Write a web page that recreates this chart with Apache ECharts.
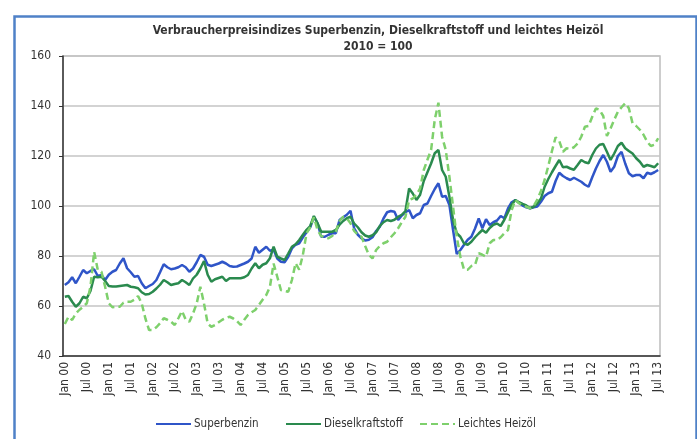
<!DOCTYPE html>
<html><head><meta charset="utf-8">
<script src="https://cdn.jsdelivr.net/npm/echarts@6/dist/echarts.min.js"></script>
<style>html,body{margin:0;padding:0;background:#fff;}#c{width:697px;height:439px;}</style>
</head><body><div id="c"></div>
<script>
var monthNames = ['Jan','Feb','Mär','Apr','Mai','Jun','Jul','Aug','Sep','Okt','Nov','Dez'];
var years = ['00','01','02','03','04','05','06','07','08','09','10','11','12','13'];
var yTicks = [40, 60, 80, 100, 120, 140, 160];
var seriesNames = ['Superbenzin', 'Dieselkraftstoff', 'Leichtes Heizöl'];

var superbenzin = [
 68.4, 69.5, 71.5, 69.1, 71.7, 74.4, 73.1, 74, 74.7, 72, 72.4, 70.4,
 72.5, 73.7, 74.4, 77, 79.1, 75.1, 73.5, 71.7, 72, 69.1, 67.1, 68,
 68.8, 70.4, 73.5, 76.7, 75.5, 74.7, 75, 75.5, 76.4, 75.5, 73.7, 75,
 77.5, 80.4, 79.7, 76.5, 76, 76.5, 77, 77.7, 77, 76, 75.7, 75.8,
 76.4, 77, 77.7, 79, 83.7, 81.3, 82.5, 83.7, 82.1, 82.5, 79, 77.7,
 77.5, 79.7, 83, 84.5, 85.1, 87.5, 89.5, 91.5, 95.7, 93.1, 87.7, 87.7,
 88.5, 89.1, 89.1, 94.4, 95.5, 96.5, 98.1, 91, 88.5, 87.1, 86.2, 86.5,
 87.5, 90, 91.7, 95, 97.5, 98, 97.7, 94.4, 96.2, 97.5, 98.4, 95.1,
 96.4, 97.1, 100.4, 101, 104, 106.8, 109.1, 103.7, 104, 100.4, 90.4, 80.8,
 82.4, 84.5, 86.5, 87.7, 91, 95, 91.1, 94.7, 92.4, 93.5, 94.2, 96,
 95.1, 99, 101.5, 102.4, 101.3, 100.2, 99.5, 99.1, 99.5, 99.8, 101.7, 104,
 105.1, 105.7, 110, 113.3, 112, 111.1, 110.4, 111.3, 110.5, 109.7, 108.5, 107.7,
 111.5, 115, 118, 120.4, 117.7, 113.7, 115.7, 120, 121.7, 117, 113.1, 111.9,
 112.4, 112.4, 111.1, 113.3, 112.8, 113.5, 114.4
];
var diesel = [
 63.7, 64, 61.7, 59.7, 61.1, 63.7, 63.1, 66, 71.7, 71.5, 71.7, 70,
 68, 67.8, 67.8, 68, 68.2, 68.4, 67.7, 67.5, 67.1, 65.5, 64.6, 64.8,
 65.7, 67, 68.5, 70.4, 69.5, 68.4, 68.8, 69.1, 70.4, 69.5, 68.4, 71,
 72.5, 75, 78, 72.5, 69.7, 70.7, 71.2, 71.7, 70, 71.1, 71.1, 71.1,
 71.1, 71.5, 72.4, 75, 77.1, 75.1, 76.5, 77.1, 79.1, 83.7, 79.7, 79,
 78.4, 81, 83.7, 84.7, 86.4, 88.5, 90.5, 92, 96, 93.1, 89.7, 89.7,
 89.7, 89.7, 90.4, 92.5, 94, 95.1, 95.7, 93, 91.5, 89.5, 88.2, 87.7,
 88.3, 89.5, 92, 93.5, 94.4, 94, 94.5, 95.7, 96.5, 98, 107, 105,
 102.4, 104.5, 110, 113.5, 117, 121.1, 122.4, 114.4, 111.7, 103.7, 94.4, 89.1,
 87.7, 85, 84.5, 85.7, 87.5, 89, 90.4, 89.3, 91.2, 92.5, 93, 92,
 94.5, 97.5, 100.5, 102.4, 101.5, 100.8, 100.2, 99.1, 99.7, 101, 103, 107.7,
 110.8, 113.5, 116, 118.4, 115.5, 115.7, 115, 114.5, 116.4, 118.4, 117.5, 117.1,
 120.4, 123, 124.5, 124.8, 121.7, 118.4, 121, 124, 125.3, 123.1, 122, 121,
 119.1, 117.7, 115.7, 116.4, 116, 115.5, 117.1
];
var heizoel = [
 52.8, 55.7, 54.4, 57, 58.5, 59.7, 61.1, 67.7, 81.7, 74.4, 73.7, 67.7,
 61.1, 59.5, 59.6, 59.7, 61.3, 61.7, 61.7, 62.5, 64, 61, 55, 50.4,
 50.4, 51.5, 53.1, 55.1, 54.5, 53.7, 52.4, 55.1, 58, 54.5, 53.7, 57,
 61, 67.7, 61, 53, 51.7, 52.4, 53.5, 54.5, 55.2, 55.7, 55, 54,
 52.4, 54.5, 56.4, 57.5, 58.4, 60.4, 62.5, 64.4, 67.7, 77, 71.7, 66.4,
 66, 65.7, 70.4, 77.1, 74.5, 80.5, 89.1, 91.5, 95.5, 90.4, 88, 87.4,
 87.1, 88, 89.7, 94, 95.7, 95.1, 93.1, 90, 88.5, 87.7, 84, 80.5,
 79, 82.4, 84, 85.1, 85.7, 87.5, 89.1, 91.1, 93.5, 95.7, 102.4, 103,
 104.5, 107, 114.4, 118.5, 122.4, 134.5, 141.3, 127.7, 122.4, 111.7, 99.7, 87.7,
 79.7, 74.5, 74.5, 76, 76.4, 81.1, 80.5, 79.7, 85.1, 86.4, 86.4, 87.5,
 89.1, 90.4, 98.4, 102.4, 101.1, 100.3, 99.7, 99.1, 100, 102.5, 106, 110.4,
 116, 122, 127.5, 126, 121.7, 123.1, 122.8, 123.5, 125, 127.7, 131.7, 132,
 135.7, 139, 138.5, 136, 128, 131, 134.5, 137.7, 139.5, 141.1, 139.1, 133.1,
 132, 130.5, 128.5, 125.7, 124, 124.5, 127.1
];

var categories = [];
for (var y = 0; y < years.length; y++) {
  for (var m = 0; m < 12; m++) {
    if (categories.length < superbenzin.length) categories.push(monthNames[m] + ' ' + years[y]);
  }
}

var FONT = '"Liberation Sans Narrow", "DejaVu Sans Condensed", Arial, sans-serif';
var legendLefts = [155, 285, 419];
var legends = seriesNames.map(function (n, k) {
  return {
    show: true, orient: 'horizontal', data: [n],
    left: legendLefts[k], top: 418, padding: 0,
    itemWidth: 35, itemHeight: 10, itemGap: 0,
    itemStyle: {opacity: 0},
    textStyle: {fontFamily: FONT, fontSize: 11.5, color: '#333333', padding: [0, 0, 0, -2]}
  };
});

var chart = echarts.init(document.getElementById('c'), null, {renderer: 'canvas'});
chart.setOption({
  animation: false,
  backgroundColor: '#ffffff',
  textStyle: {fontFamily: FONT},
  graphic: [{
    type: 'rect', left: 12, top: 14, z: 100, silent: true,
    shape: {width: 682, height: 440},
    style: {fill: 'none', stroke: '#4f81c7', lineWidth: 2.5}
  }],
  title: {
    text: 'Verbraucherpreisindizes Superbenzin, Dieselkraftstoff und leichtes Heizöl',
    subtext: '2010 = 100',
    left: 373, top: 20, textAlign: 'center', itemGap: 4,
    textStyle: {fontFamily: FONT, fontSize: 12, fontWeight: 'bold', color: '#333333'},
    subtextStyle: {fontFamily: FONT, fontSize: 12, fontWeight: 'bold', color: '#333333'}
  },
  legend: legends,
  grid: {left: 63, right: 37, top: 56, bottom: 83, show: true, borderColor: '#bdbdbd', borderWidth: 1.5},
  xAxis: {
    type: 'category', data: categories, boundaryGap: true,
    axisLine: {lineStyle: {color: '#333333', width: 1.5}},
    axisTick: {interval: 0, length: 3, lineStyle: {color: '#777777'}},
    axisLabel: {interval: 5, rotate: 90, fontFamily: FONT, fontSize: 12, color: '#333333', margin: 6},
    splitLine: {show: false}
  },
  yAxis: {
    type: 'value', min: yTicks[0], max: yTicks[yTicks.length - 1], interval: 20,
    axisLine: {show: true, lineStyle: {color: '#333333', width: 1.5}},
    axisTick: {show: true, length: 4, lineStyle: {color: '#333333'}},
    axisLabel: {fontFamily: FONT, fontSize: 12, color: '#333333', margin: 12},
    splitLine: {lineStyle: {color: '#c4c4c4', width: 1.5}}
  },
  series: [
    {name: seriesNames[0], type: 'line', data: superbenzin, showSymbol: false, symbol: 'none',
     lineStyle: {color: '#2f55c8', width: 2.5}, itemStyle: {color: '#2f55c8'}},
    {name: seriesNames[1], type: 'line', data: diesel, showSymbol: false, symbol: 'none',
     lineStyle: {color: '#2a8a4e', width: 2.5}, itemStyle: {color: '#2a8a4e'}},
    {name: seriesNames[2], type: 'line', data: heizoel, showSymbol: false, symbol: 'none',
     lineStyle: {color: '#7ed06c', width: 2.5, type: [7, 4]}, itemStyle: {color: '#7ed06c'}}
  ]
});
</script>
</body></html>
